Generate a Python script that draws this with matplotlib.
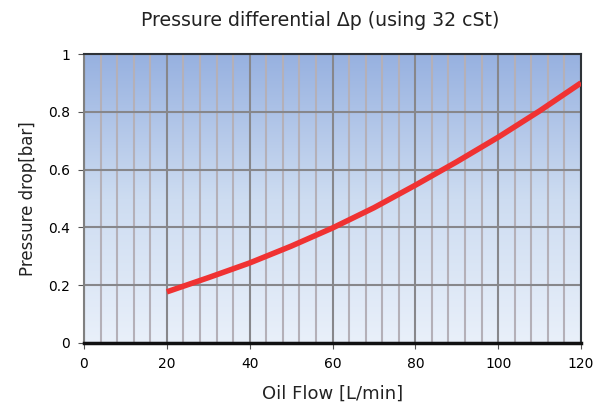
import matplotlib
matplotlib.use("Agg")
import matplotlib.pyplot as plt
import numpy as np
from matplotlib.colors import LinearSegmentedColormap

# data
flow = [20, 30, 40, 50, 60, 70, 80, 90, 100, 110, 120]
dp = [0.177, 0.226, 0.277, 0.335, 0.398, 0.468, 0.546, 0.627, 0.712, 0.803, 0.900]

xticks = [0, 20, 40, 60, 80, 100, 120]
yticks = [0, 0.2, 0.4, 0.6, 0.8, 1]
ylabels = ["0", "0.2", "0.4", "0.6", "0.8", "1"]

plt.rcParams['font.family'] = ['DejaVu Sans']

fig = plt.figure(figsize=(6.09, 4.07), dpi=100)
ax = fig.add_axes([84/609, 1-343/407, 497/609, 289/407])

# gradient background
cmap = LinearSegmentedColormap.from_list("bg", ["#e9f0fa", "#cddcf1", "#97b1e0"])
grad = np.linspace(0, 1, 256).reshape(-1, 1)
ax.imshow(grad, cmap=cmap, origin="lower", extent=[0, 120, 0, 1],
          aspect="auto", zorder=0)

ax.set_xlim(0, 120)
ax.set_ylim(0, 1)
ax.set_xticks(xticks)
ax.set_xticks(np.arange(0, 121, 4), minor=True)
ax.set_yticks(yticks)
ax.set_yticklabels(ylabels)

ax.grid(which="minor", axis="x", color="#b4b0b8", linewidth=1.5, zorder=1)
ax.grid(which="major", axis="both", color="#87878b", linewidth=1.5, zorder=1)
ax.set_axisbelow(True)
ax.tick_params(which="minor", length=0)
ax.tick_params(which="major", length=4, color="#555555", labelsize=10, pad=6)

ax.plot(flow, dp, color="#f03232", linewidth=4, solid_capstyle="butt", zorder=3)

for s in ["top", "right"]:
    ax.spines[s].set_color("#2e3338")
    ax.spines[s].set_linewidth(1.5)
ax.spines["left"].set_color("#808080")
ax.spines["left"].set_linewidth(1.5)
ax.spines["bottom"].set_color("#111111")
ax.spines["bottom"].set_linewidth(2.5)

fig.text(320/609, 1-20/407, "Pressure differential \u0394p (using 32 cSt)",
         fontsize=13.6, color="#222222", ha="center", va="center")
ax.set_xlabel("Oil Flow [L/min]", fontsize=13, color="#222222", labelpad=10)
ax.set_ylabel("Pressure drop[bar]", fontsize=12, color="#222222", labelpad=8)

fig.savefig("out.png", dpi=100)
